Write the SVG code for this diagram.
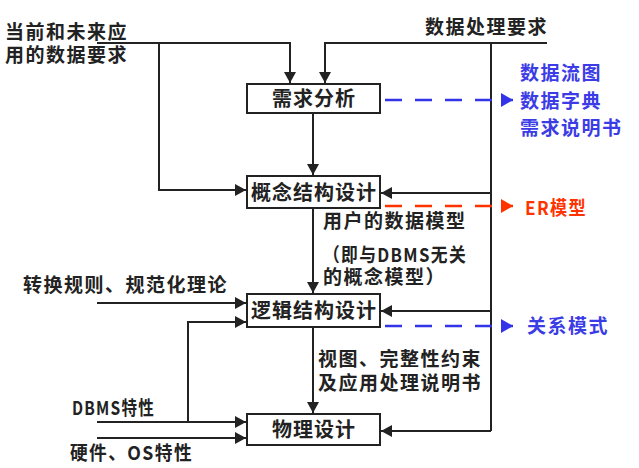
<svg xmlns="http://www.w3.org/2000/svg" width="639" height="468" viewBox="0 0 639 468">
<defs>
<style>
text{font-family:"Noto Sans CJK SC","Noto Sans",sans-serif;font-size:19px;font-weight:bold;fill:#222;letter-spacing:1.5px}
.bx{font-size:20px;letter-spacing:1px}
.box{fill:#fff;stroke:#222;stroke-width:2}
.ln{fill:none;stroke:#222;stroke-width:2}
.bd{fill:none;stroke:#3333e8;stroke-width:2.5;stroke-dasharray:17 13}
.rd{fill:none;stroke:#ff3300;stroke-width:2.5;stroke-dasharray:17 13}
.blue{fill:#3c3ce6}
.red{fill:#ff3300}
.c{text-anchor:middle}
</style>
<marker id="ah" markerUnits="userSpaceOnUse" markerWidth="12" markerHeight="12" refX="11" refY="6" orient="auto"><path d="M0,0 L11,6 L0,12 z" fill="#222"/></marker>
<marker id="ahb" markerUnits="userSpaceOnUse" markerWidth="13" markerHeight="14" refX="12" refY="7" orient="auto"><path d="M0,0 L12,7 L0,14 z" fill="#3333e8"/></marker>
<marker id="ahr" markerUnits="userSpaceOnUse" markerWidth="13" markerHeight="14" refX="12" refY="7" orient="auto"><path d="M0,0 L12,7 L0,14 z" fill="#ff3300"/></marker>
</defs>
<g id="connectors">
<path class="ln" d="M97,43 H290 V83" marker-end="url(#ah)"/>
<path class="ln" d="M159,43 V190 H246" marker-end="url(#ah)"/>
<path class="ln" d="M547,43 H325 V83" marker-end="url(#ah)"/>
<path class="ln" d="M491,43 V431"/>
<path class="ln" d="M491,193 H381" marker-end="url(#ah)"/>
<path class="ln" d="M491,311 H381" marker-end="url(#ah)"/>
<path class="ln" d="M491,431 H381" marker-end="url(#ah)"/>
<path class="ln" d="M313,113 V175" marker-end="url(#ah)"/>
<path class="ln" d="M313,208 V293" marker-end="url(#ah)"/>
<path class="ln" d="M313,327 V413" marker-end="url(#ah)"/>
<path class="ln" d="M97,303 H246" marker-end="url(#ah)"/>
<path class="ln" d="M188,422 V322 H246" marker-end="url(#ah)"/>
<path class="ln" d="M97,422 H246" marker-end="url(#ah)"/>
<path class="ln" d="M97,438 H246" marker-end="url(#ah)"/>
<path class="bd" d="M385,100 H513" marker-end="url(#ahb)"/>
<path class="rd" d="M385,206 H513" marker-end="url(#ahr)"/>
<path class="bd" d="M385,326 H513" marker-end="url(#ahb)"/>
</g>
<g id="n1"><rect class="box" x="247" y="84" width="133" height="29"/><text class="c bx" x="314" y="106">需求分析</text></g>
<g id="n2"><rect class="box" x="247" y="176" width="133" height="32"/><text class="c bx" x="314" y="200">概念结构设计</text></g>
<g id="n3"><rect class="box" x="247" y="294" width="133" height="33"/><text class="c bx" x="314" y="318">逻辑结构设计</text></g>
<g id="n4"><rect class="box" x="247" y="414" width="133" height="31"/><text class="c bx" x="314" y="437">物理设计</text></g>
<g id="labels">
<text x="5" y="39">当前和未来应</text>
<text x="5" y="62">用的数据要求</text>
<text x="425" y="34">数据处理要求</text>
<text class="blue" x="520" y="80">数据流图</text>
<text class="blue" x="520" y="108">数据字典</text>
<text class="blue" x="520" y="135">需求说明书</text>
<text class="red" x="525" y="215" textLength="62" lengthAdjust="spacingAndGlyphs">ER模型</text>
<text x="323" y="228">用户的数据模型</text>
<text x="323" y="262" textLength="144" lengthAdjust="spacingAndGlyphs">（即与DBMS无关</text>
<text x="323" y="284">的概念模型）</text>
<text class="blue" x="527" y="333">关系模式</text>
<text x="318" y="366">视图、完整性约束</text>
<text x="318" y="390">及应用处理说明书</text>
<text x="23" y="292">转换规则、规范化理论</text>
<text x="72" y="415" textLength="83" lengthAdjust="spacingAndGlyphs">DBMS特性</text>
<text x="70" y="460" textLength="123" lengthAdjust="spacingAndGlyphs">硬件、OS特性</text>
</g>
</svg>
